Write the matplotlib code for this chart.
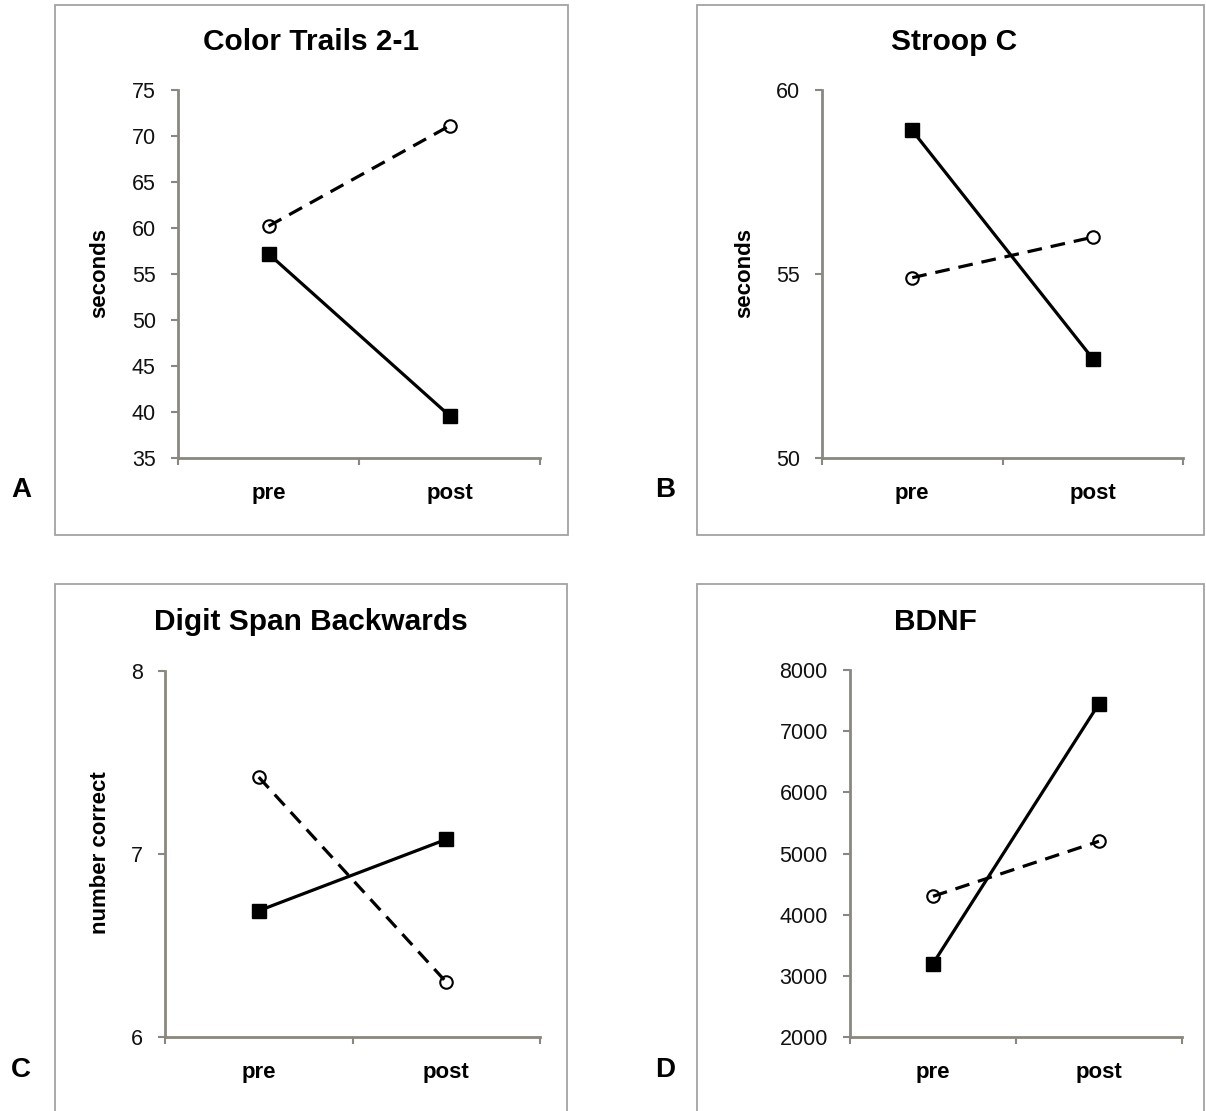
import matplotlib
matplotlib.use("Agg")
import matplotlib.pyplot as plt
from matplotlib.patches import Rectangle
from matplotlib.ticker import FixedLocator

plt.rcParams['font.family'] = ['Liberation Sans', 'DejaVu Sans']

# ---- data ----
categories = ["pre", "post"]

trails_solid = [57.2, 39.6]
trails_dashed = [60.2, 71.1]
trails_ticks = [35, 40, 45, 50, 55, 60, 65, 70, 75]

stroop_solid = [58.9, 52.7]
stroop_dashed = [54.9, 56.0]
stroop_ticks = [50, 55, 60]

digit_solid = [6.69, 7.08]
digit_dashed = [7.42, 6.30]
digit_ticks = [6, 7, 8]

bdnf_solid = [3200, 7450]
bdnf_dashed = [4300, 5200]
bdnf_ticks = [2000, 3000, 4000, 5000, 6000, 7000, 8000]

titles = ["Color Trails 2-1", "Stroop C", "Digit Span Backwards", "BDNF"]
ylabels = ["seconds", "seconds", "number correct", ""]
letters = ["A", "B", "C", "D"]

W, H = 1206, 1111
fig = plt.figure(figsize=(W / 100, H / 100), dpi=100)

SPINE = '#8a887e'
FRAME = '#a3a3a3'

def fx(x):
    return x / W

def fy(y):
    return 1 - y / H

def add_frame(x0, y0, x1, y1):
    fig.patches.append(Rectangle((fx(x0), fy(y1)), fx(x1) - fx(x0), fy(y0) - fy(y1),
                                 transform=fig.transFigure, fill=False,
                                 edgecolor=FRAME, linewidth=1.3, zorder=0))

# frames (pixel boxes)
add_frame(55, 5, 568, 535)
add_frame(697, 5, 1204, 535)
add_frame(55, 584, 567, 1116)
add_frame(697, 584, 1204, 1116)

panels = [
    # (left, right, top, bottom) in px, solid, dashed, ticks
    ((178, 540, 90, 458), trails_solid, trails_dashed, trails_ticks),
    ((822, 1183, 90, 458), stroop_solid, stroop_dashed, stroop_ticks),
    ((165, 540, 671, 1037), digit_solid, digit_dashed, digit_ticks),
    ((850, 1182, 670, 1037), bdnf_solid, bdnf_dashed, bdnf_ticks),
]

title_pos = [(311, 42), (954, 42), (311, 622), (935, 622)]
ylabel_pos = [(100, 273), (745, 273), (100, 853), None]
letter_pos = [(21, 490), (665, 490), (21, 1070), (665, 1070)]

for i, ((l, r, t, b), solid, dashed, ticks) in enumerate(panels):
    ax = fig.add_axes([fx(l), fy(b), fx(r) - fx(l), fy(t) - fy(b)])
    x = list(range(len(categories)))
    # dashed series: markers under the line
    ax.plot(x, dashed, linestyle='none', marker='o', markersize=9,
            markerfacecolor='white', markeredgecolor='black', markeredgewidth=1.5,
            zorder=3, clip_on=False)
    ax.plot(x, dashed, color='black', linewidth=2.3, linestyle=(0, (4.6, 2.8)),
            zorder=4, clip_on=False)
    ax.plot(x, solid, color='black', linewidth=2.3, marker='s', markersize=10,
            markerfacecolor='black', markeredgecolor='black', zorder=5, clip_on=False)

    ax.set_xlim(-0.5, 1.5)
    ax.set_ylim(ticks[0], ticks[-1])
    ax.set_yticks(ticks)
    ax.set_yticklabels([str(v) for v in ticks])
    ax.set_xticks(x)
    ax.set_xticklabels(categories, fontsize=16, fontweight='bold')
    ax.xaxis.set_minor_locator(FixedLocator([-0.5, 0.5, 1.5]))
    ax.tick_params(axis='x', which='major', length=0, pad=18)
    ax.tick_params(axis='x', which='minor', length=5, width=1.5, color=SPINE, direction='out')
    ax.tick_params(axis='y', which='major', length=5, width=1.5, color=SPINE,
                   direction='out', labelsize=15.5, pad=11, labelcolor='#111111')
    for s in ['top', 'right']:
        ax.spines[s].set_visible(False)
    for s in ['left', 'bottom']:
        ax.spines[s].set_color(SPINE)
        ax.spines[s].set_linewidth(2.0)
    ax.set_facecolor('none')

    tx, ty = title_pos[i]
    fig.text(fx(tx), fy(ty), titles[i], ha='center', va='center',
             fontsize=21.5, fontweight='bold')
    if ylabel_pos[i] is not None:
        yx, yy = ylabel_pos[i]
        fig.text(fx(yx), fy(yy), ylabels[i], ha='center', va='center',
                 rotation=90, fontsize=16, fontweight='bold')
    lx, ly = letter_pos[i]
    fig.text(fx(lx), fy(ly), letters[i], ha='center', va='center',
             fontsize=20, fontweight='bold')

fig.savefig("out.png", dpi=100, facecolor='white')
